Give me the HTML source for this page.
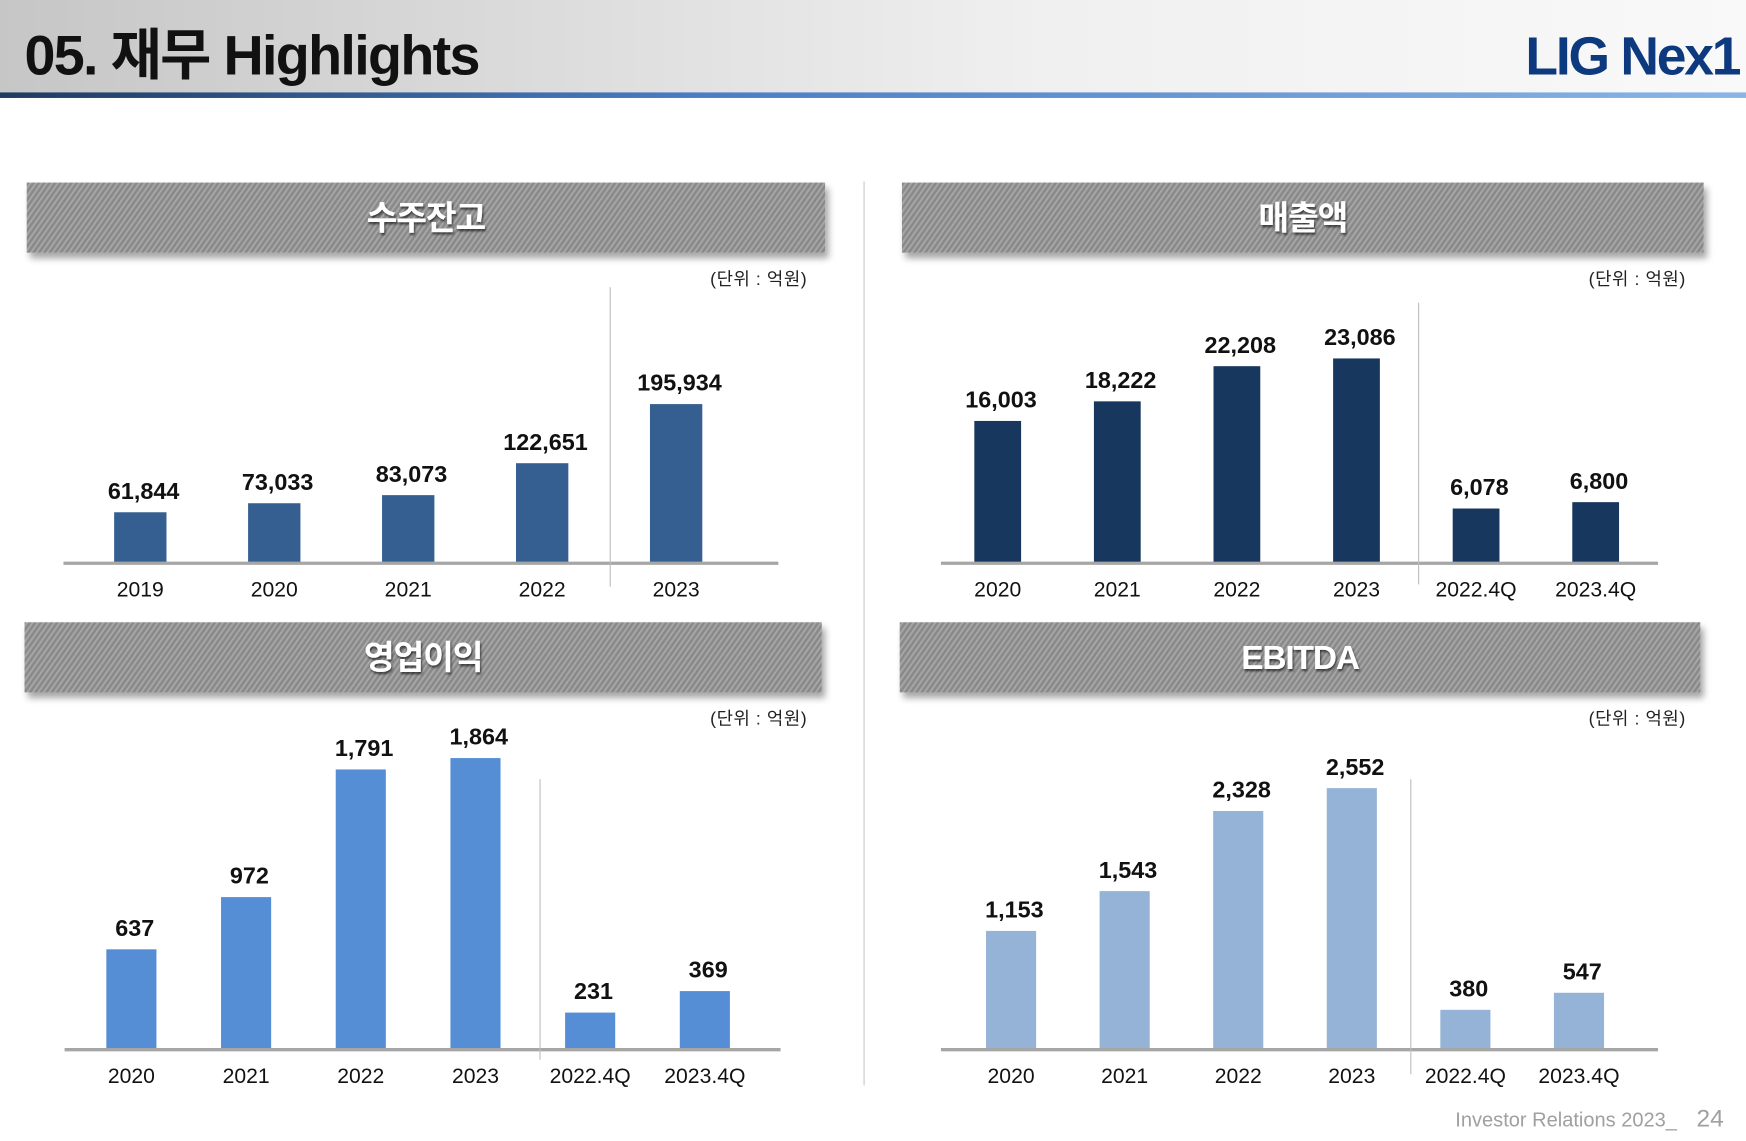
<!DOCTYPE html>
<html><head><meta charset="utf-8"><style>
html,body{margin:0;padding:0;background:#fff;width:1746px;height:1141px;overflow:hidden}
svg{display:block}
text{font-family:"Liberation Sans","Noto Sans CJK KR",sans-serif}
</style></head><body>
<svg id="s" width="1746" height="1141" viewBox="0 0 1568 1025" preserveAspectRatio="none" xmlns="http://www.w3.org/2000/svg">
<defs>
<linearGradient id="hg" x1="0" x2="1"><stop offset="0" stop-color="#c6c6c6"/><stop offset="0.6" stop-color="#f0f0f0"/><stop offset="1" stop-color="#f9f9f9"/></linearGradient>
<linearGradient id="bg" x1="0" x2="1"><stop offset="0" stop-color="#1f3a60"/><stop offset="0.4" stop-color="#4a7dc4"/><stop offset="1" stop-color="#8cb5e6"/></linearGradient>
<pattern id="hatch" width="4" height="4" patternUnits="userSpaceOnUse" patternTransform="rotate(35)"><rect width="4" height="4" fill="#8a8a8a"/><rect width="1.6" height="4" fill="#a8a8a8"/></pattern>
<filter id="sh" x="-5%" y="-20%" width="110%" height="160%"><feDropShadow dx="3" dy="5" stdDeviation="3" flood-color="#000" flood-opacity="0.35"/></filter>
<filter id="ts"><feDropShadow dx="1" dy="2" stdDeviation="1" flood-color="#000" flood-opacity="0.6"/></filter>
</defs>
<rect x="0" y="0" width="1568" height="83" fill="url(#hg)"/>
<rect x="0" y="83" width="1568" height="5" fill="url(#bg)"/>
<text x="22" y="67" font-size="50" font-weight="bold" fill="#111" letter-spacing="-1.5" textLength="408" lengthAdjust="spacingAndGlyphs">05. 재무 Highlights</text>
<text x="1562" y="67" font-size="48" font-weight="bold" fill="#0d3a7e" text-anchor="end" letter-spacing="-2">LIG Nex1</text>
<line x1="776" y1="163" x2="776" y2="975" stroke="#c8c8c8" stroke-width="1"/>
<text x="1506" y="1012" font-size="18" fill="#a0a0a0" text-anchor="end">Investor Relations 2023_</text>
<text x="1548" y="1012" font-size="22" fill="#a0a0a0" text-anchor="end">24</text>
<g id="charts"></g>
</svg>
<script>
const backlogCats=["2019","2020","2021","2022","2023"];
const backlogVals=[61844,73033,83073,122651,195934];
const salesCats=["2020","2021","2022","2023","2022.4Q","2023.4Q"];
const salesVals=[16003,18222,22208,23086,6078,6800];
const opCats=["2020","2021","2022","2023","2022.4Q","2023.4Q"];
const opVals=[637,972,1791,1864,231,369];
const ebitdaCats=["2020","2021","2022","2023","2022.4Q","2023.4Q"];
const ebitdaVals=[1153,1543,2328,2552,380,547];

const NS="http://www.w3.org/2000/svg";
const root=document.getElementById('charts');
function mk(tag,attrs,parent){const e=document.createElementNS(NS,tag);for(const k in attrs)e.setAttribute(k,attrs[k]);(parent||root).appendChild(e);return e;}
function fmt(v){return v.toLocaleString('en-US');}
function chart(cfg){
  const g=mk('g',{});
  
  
  const b=mk('rect',{x:cfg.bx,y:cfg.by,width:cfg.bw,height:63,fill:'url(#hatch)',filter:'url(#sh)'},g);
  
  
  const t=mk('text',{x:cfg.bx+cfg.bw/2,y:cfg.by+42,'font-size':30,'font-weight':'bold',fill:'#fff','text-anchor':'middle',filter:'url(#ts)','letter-spacing':'-1'},g);
  t.textContent=cfg.title;
  
  
  const u=mk('text',{x:cfg.ux,y:cfg.by+92,'font-size':16,fill:'#222','text-anchor':'end','letter-spacing':'0.5'},g);
  u.textContent='(단위 : 억원)';
  
  
  const max=Math.max(...cfg.vals);
  const yS=v=>v/max*cfg.maxH;
  const xS=i=>cfg.c0+i*cfg.step;
  cfg.vals.forEach((v,i)=>{
    const h=yS(v);
    const r=mk('rect',{x:xS(i)-cfg.w/2,y:cfg.axisY-h,width:cfg.w,height:h,fill:cfg.color},g);
    
    
    const l=mk('text',{x:xS(i)+3,y:cfg.axisY-h-12,'font-size':21,'font-weight':'bold',fill:'#111','text-anchor':'middle'},g);
    l.textContent=fmt(v);
    
    
    const c=mk('text',{x:xS(i),y:cfg.axisY+31,'font-size':19,fill:'#111','text-anchor':'middle'},g);
    c.textContent=cfg.cats[i];
    
    
  });
  const a=mk('line',{x1:cfg.ax0,x2:cfg.ax1,y1:cfg.axisY+1,y2:cfg.axisY+1,stroke:'#a6a6a6','stroke-width':3},g);
  
  
  const s=mk('line',{x1:cfg.sepX,x2:cfg.sepX,y1:cfg.sepY0,y2:cfg.sepY1,stroke:'#bdbdbd','stroke-width':1},g);
  
  
}
chart({name:'backlog-chart',title:'수주잔고',bx:24,by:164,bw:717,ux:725,cats:backlogCats,vals:backlogVals,c0:126,step:120.3,w:47,axisY:505,maxH:142,ax0:57,ax1:699,color:'#365f91',sepX:548,sepY0:258,sepY1:527});
chart({name:'sales-chart',title:'매출액',bx:810,by:164,bw:720,ux:1514,cats:salesCats,vals:salesVals,c0:896,step:107.4,w:42,axisY:505,maxH:183,ax0:845,ax1:1489,color:'#17375e',sepX:1274,sepY0:272,sepY1:525});
chart({name:'operating-profit-chart',title:'영업이익',bx:22,by:559,bw:716,ux:725,cats:opCats,vals:opVals,c0:118,step:103,w:45,axisY:942,maxH:261,ax0:58,ax1:701,color:'#558ed5',sepX:485,sepY0:700,sepY1:952});
chart({name:'ebitda-chart',title:'EBITDA',bx:808,by:559,bw:719,ux:1514,cats:ebitdaCats,vals:ebitdaVals,c0:908,step:102,w:45,axisY:942,maxH:234,ax0:845,ax1:1489,color:'#95b3d7',sepX:1267,sepY0:700,sepY1:965});
</script>
</body></html>
